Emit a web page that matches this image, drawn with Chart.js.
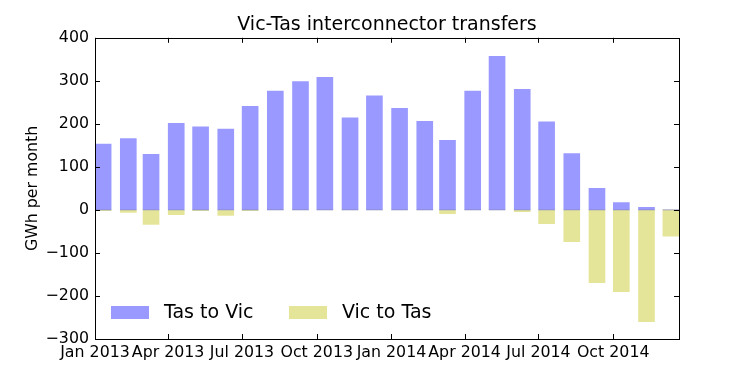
<!DOCTYPE html>
<html>
<head>
<meta charset="utf-8">
<script src="https://cdn.jsdelivr.net/npm/chart.js@4"></script>
<style>
  html, body { margin: 0; padding: 0; background: #fff; }
</style>
</head>
<body>
<canvas id="chart" width="754" height="377"></canvas>
<script>
// monthly transfers, GWh
const MONTHS = ['2013-01', '2013-02', '2013-03', '2013-04', '2013-05', '2013-06',
                '2013-07', '2013-08', '2013-09', '2013-10', '2013-11', '2013-12',
                '2014-01', '2014-02', '2014-03', '2014-04', '2014-05', '2014-06',
                '2014-07', '2014-08', '2014-09', '2014-10', '2014-11', '2014-12'];
const TAS_TO_VIC = [153, 166, 129, 201, 193, 188, 241, 276, 298, 308, 214, 265,
                    236, 206, 162, 276, 357, 280, 205, 131, 50, 17, 6, 0];
const VIC_TO_TAS = [-2, -6, -34, -11, -2, -13, -2, 0, 0, 0, 0, 0,
                    0, 0, -9, 0, 0, -4, -32, -74, -169, -190, -260, -61];
const SERIES_LABELS = ['Tas to Vic', 'Vic to Tas'];
const TICK_MONTHS = ['2013-01', '2013-04', '2013-07', '2013-10', '2014-01', '2014-04', '2014-07', '2014-10'];
const TICK_LABELS = ['Jan 2013', 'Apr 2013', 'Jul 2013', 'Oct 2013', 'Jan 2014', 'Apr 2014', 'Jul 2014', 'Oct 2014'];
const Y_MIN = -300, Y_MAX = 400, Y_STEP = 100;
const BAR_DAYS = 20;

const FONT = 'DejaVu Sans';

// days since first month
const dayOf = (m) => {
    const [yr, mo] = m.split('-').map(Number);
    const [y0, m0] = MONTHS[0].split('-').map(Number);
    return (Date.UTC(yr, mo - 1, 1) - Date.UTC(y0, m0 - 1, 1)) / 864e5;
};

const points = (vals) => MONTHS.map((m, i) => ({ x: dayOf(m) + BAR_DAYS / 2, y: vals[i] }));

const framePlugin = {
    id: 'frame',
    afterDatasetsDraw(chart) {
        const { ctx, chartArea: a, scales: { x, y } } = chart;
        const tl = 5;
        ctx.save();
        ctx.strokeStyle = '#000';
        ctx.lineWidth = 1;
        ctx.beginPath();
        x.ticks.forEach(t => {
            const px = Math.round(x.getPixelForValue(t.value)) + 0.5;
            ctx.moveTo(px, a.bottom); ctx.lineTo(px, a.bottom - tl);
            ctx.moveTo(px, a.top); ctx.lineTo(px, a.top + tl);
        });
        y.ticks.forEach(t => {
            const py = Math.round(y.getPixelForValue(t.value)) + 0.5;
            ctx.moveTo(a.left, py); ctx.lineTo(a.left + tl, py);
            ctx.moveTo(a.right, py); ctx.lineTo(a.right - tl, py);
        });
        ctx.stroke();
        ctx.strokeRect(Math.round(a.left) + 0.5, Math.round(a.top) + 0.5,
                       Math.round(a.right - a.left), Math.round(a.bottom - a.top));

        // legend, lower left inside the axes
        ctx.font = '19px "' + FONT + '"';
        ctx.textBaseline = 'middle';
        chart.data.datasets.forEach((ds, i) => {
            const lx = a.left + 16 + i * 178;
            const ly = a.bottom - 33;
            ctx.fillStyle = ds.backgroundColor;
            ctx.fillRect(lx, ly, 38, 13);
            ctx.fillStyle = '#000';
            ctx.fillText(ds.label, lx + 53, ly + 7);
        });
        ctx.restore();
    }
};

new Chart(document.getElementById('chart'), {
    type: 'bar',
    data: {
        datasets: [
            { label: SERIES_LABELS[0], data: points(TAS_TO_VIC), backgroundColor: 'rgba(0, 0, 255, 0.4)' },
            { label: SERIES_LABELS[1], data: points(VIC_TO_TAS), backgroundColor: 'rgba(191, 191, 0, 0.4)' }
        ]
    },
    options: {
        responsive: false,
        animation: false,
        layout: { padding: { left: 20, right: 0, top: 0, bottom: 0 } },
        datasets: { bar: { grouped: false, barThickness: 16, borderWidth: 0 } },
        plugins: {
            legend: { display: false },
            tooltip: { enabled: false },
            title: {
                display: true,
                text: 'Vic-Tas interconnector transfers',
                color: '#000',
                font: { family: FONT, size: 19, weight: 'normal' },
                padding: { top: 14, bottom: 1 }
            }
        },
        scales: {
            x: {
                type: 'linear',
                offset: false,
                min: 0,
                max: dayOf(MONTHS[MONTHS.length - 1]) + BAR_DAYS,
                grid: { display: false, drawTicks: false },
                border: { display: false },
                afterBuildTicks: (s) => { s.ticks = TICK_MONTHS.map(m => ({ value: dayOf(m) })); },
                afterFit: (s) => { s.height = 38; },
                ticks: {
                    autoSkip: false,
                    maxRotation: 0,
                    padding: 4,
                    color: '#000',
                    font: { family: FONT, size: 15.8 },
                    callback: (v) => TICK_LABELS[TICK_MONTHS.findIndex(m => dayOf(m) === v)]
                }
            },
            y: {
                min: Y_MIN,
                max: Y_MAX,
                grid: { display: false, drawTicks: false },
                border: { display: false },
                afterFit: (s) => { s.width = 75; },
                ticks: {
                    stepSize: Y_STEP,
                    padding: 6,
                    color: '#000',
                    font: { family: FONT, size: 15.8 },
                    callback: (v) => String(v).replace('-', '\u2212')
                },
                title: {
                    display: true,
                    text: 'GWh per month',
                    color: '#000',
                    font: { family: FONT, size: 15.8 },
                    padding: { top: 3, bottom: 0 }
                }
            },
            // empty right-hand box so the title centres over the axes
            yRight: {
                position: 'right',
                grid: { display: false, drawTicks: false },
                border: { display: false },
                ticks: { display: false },
                afterFit: (s) => { s.width = 75; }
            }
        }
    },
    plugins: [framePlugin]
});
</script>
</body>
</html>
